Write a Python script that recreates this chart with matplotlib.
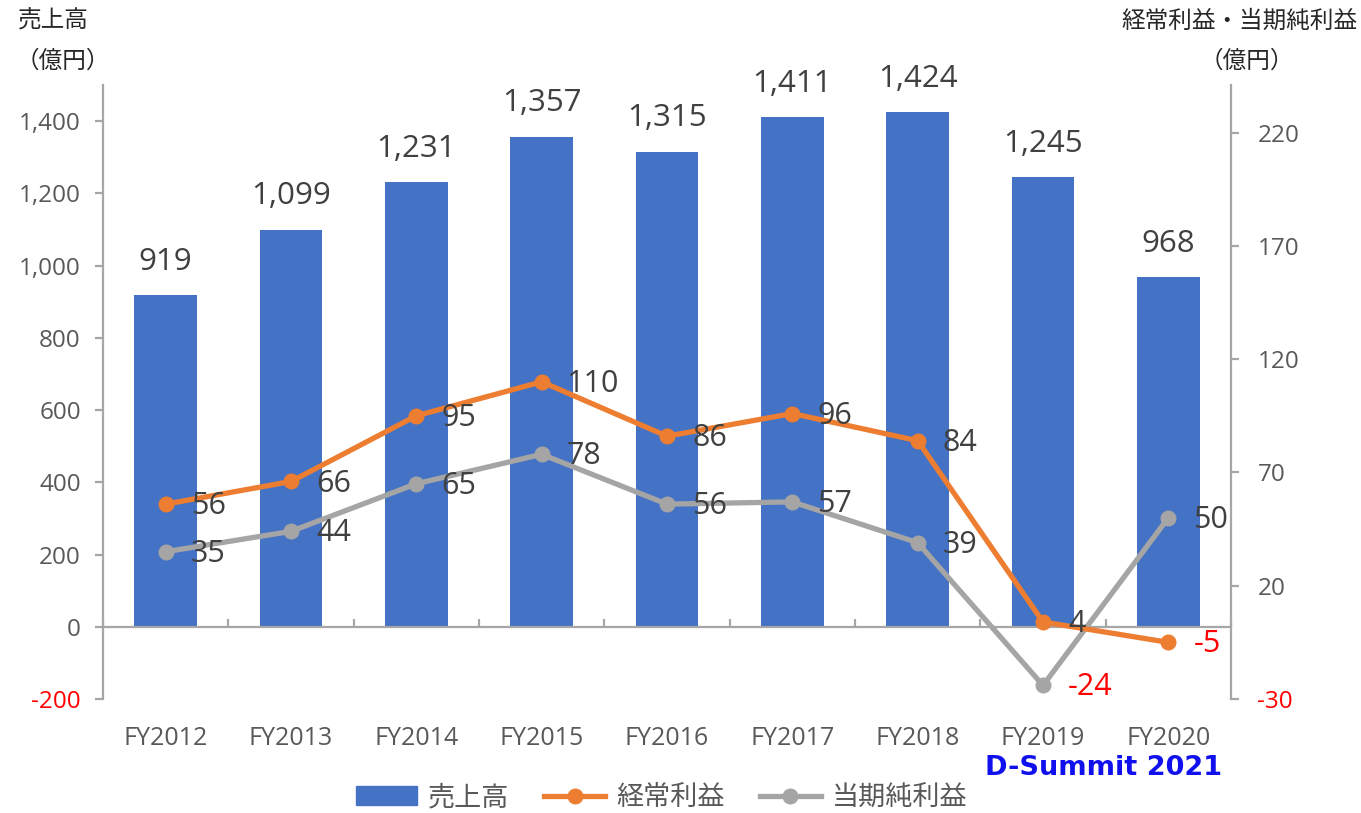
import numpy as np
import matplotlib.pyplot as plt
from matplotlib.lines import Line2D
from matplotlib.patches import Patch
import matplotlib.transforms as mtransforms

plt.rcParams['font.family'] = ['Open Sans', 'Noto Sans CJK JP', 'DejaVu Sans']

# データ
years = ['FY2012', 'FY2013', 'FY2014', 'FY2015', 'FY2016', 'FY2017', 'FY2018', 'FY2019', 'FY2020']
sales = [919, 1099, 1231, 1357, 1315, 1411, 1424, 1245, 968]
ordinary_profit = [56, 66, 95, 110, 86, 96, 84, 4, -5]
net_profit = [35, 44, 65, 78, 56, 57, 39, -24, 50]

left_ticks = [-200, 0, 200, 400, 600, 800, 1000, 1200, 1400]
right_ticks = [-30, 20, 70, 120, 170, 220]

BLUE = '#4472C4'
ORANGE = '#ED7D31'
GRAY = '#A5A5A5'
TXT = '#595959'
LBL = '#404040'
RED = '#FF0000'
SPINE = '#A6A6A6'

fig = plt.figure(figsize=(13.61, 8.13), dpi=100)
ax = fig.add_axes([103 / 1361, 1 - 699 / 813, 1128 / 1361, 614 / 813])
ax2 = ax.twinx()

x = np.arange(len(years))

# 売上高 (棒)
ax.bar(x, sales, width=0.5, color=BLUE, zorder=2)
for xi, v in zip(x, sales):
    ax.annotate(f'{v:,}', (xi, v), xytext=(0, 24), textcoords='offset points',
                ha='center', va='center', fontsize=22.5, color=LBL)

ax.set_xlim(-0.5, len(years) - 0.5)
ax.set_ylim(-200, 1500)
ax2.set_ylim(-30, 241)

# 折れ線
ax2.plot(x, net_profit, color=GRAY, lw=3.8, marker='o', ms=10.5, zorder=3)
ax2.plot(x, ordinary_profit, color=ORANGE, lw=3.8, marker='o', ms=10.5, zorder=4)
for series in (ordinary_profit, net_profit):
    for xi, v in zip(x, series):
        ax2.annotate(str(v), (xi, v), xytext=(18, -1.5), textcoords='offset points',
                     ha='left', va='center', fontsize=22,
                     color=RED if v < 0 else LBL, zorder=5)

# 軸
for s in ['top', 'right']:
    ax.spines[s].set_visible(False)
for s in ['top', 'left']:
    ax2.spines[s].set_visible(False)
ax.spines['left'].set_color(SPINE)
ax.spines['left'].set_linewidth(1.6)
ax2.spines['right'].set_color(SPINE)
ax2.spines['right'].set_linewidth(1.6)
ax.spines['bottom'].set_position(('data', 0))
ax.spines['bottom'].set_color(SPINE)
ax.spines['bottom'].set_linewidth(1.6)
ax2.spines['bottom'].set_visible(False)

ax.set_yticks(left_ticks, [f'{t:,}' for t in left_ticks])
ax2.set_yticks(right_ticks, [str(t) for t in right_ticks])
ax.tick_params(axis='y', length=6, width=1.6, color=SPINE, labelsize=17.5,
               labelcolor=TXT, pad=10)
ax2.tick_params(axis='y', length=6, width=1.6, color=SPINE, labelsize=17.5,
                labelcolor=TXT, pad=13)
for lab in ax.get_yticklabels():
    if lab.get_text().startswith('-'):
        lab.set_color(RED)
for lab in ax2.get_yticklabels():
    if lab.get_text().startswith('-'):
        lab.set_color(RED)

ax.set_xticks(np.arange(len(years) + 1) - 0.5)
ax.set_xticklabels([])
ax.tick_params(axis='x', direction='in', length=6, width=1.6, color=SPINE)
trans = mtransforms.blended_transform_factory(ax.transData, ax.transAxes)
for xi, yr in zip(x, years):
    ax.text(xi, -0.064, yr, transform=trans, ha='center', va='center',
            fontsize=18, color=TXT)

# 軸タイトル
fig.text(18 / 1361, 1 - 22 / 813, '売上高', ha='left', va='center', fontsize=17, color='#262626')
fig.text(63 / 1361, 1 - 62 / 813, '（億円）', ha='center', va='center', fontsize=17, color='#262626')
fig.text(1358 / 1361, 1 - 22 / 813, '経常利益・当期純利益', ha='right', va='center', fontsize=17, color='#262626')
fig.text(1247 / 1361, 1 - 62 / 813, '（億円）', ha='center', va='center', fontsize=17, color='#262626')

fig.text(1104 / 1361, 1 - 768 / 813, 'D-Summit 2021', ha='center', va='center',
         fontsize=19.5, fontweight='bold', color='#1010EE', family='DejaVu Sans')

# 凡例
handles = [
    Patch(color=BLUE),
    Line2D([], [], color=ORANGE, lw=3.8, marker='o', ms=10.5),
    Line2D([], [], color=GRAY, lw=3.8, marker='o', ms=10.5),
]
fig.legend(handles, ['売上高', '経常利益', '当期純利益'], loc='center',
           bbox_to_anchor=(0.486, 0.018), ncol=3, frameon=False, fontsize=19.5,
           labelcolor=TXT, handlelength=2.25, handletextpad=0.4, columnspacing=1.3)

fig.savefig('out.png', dpi=100)
